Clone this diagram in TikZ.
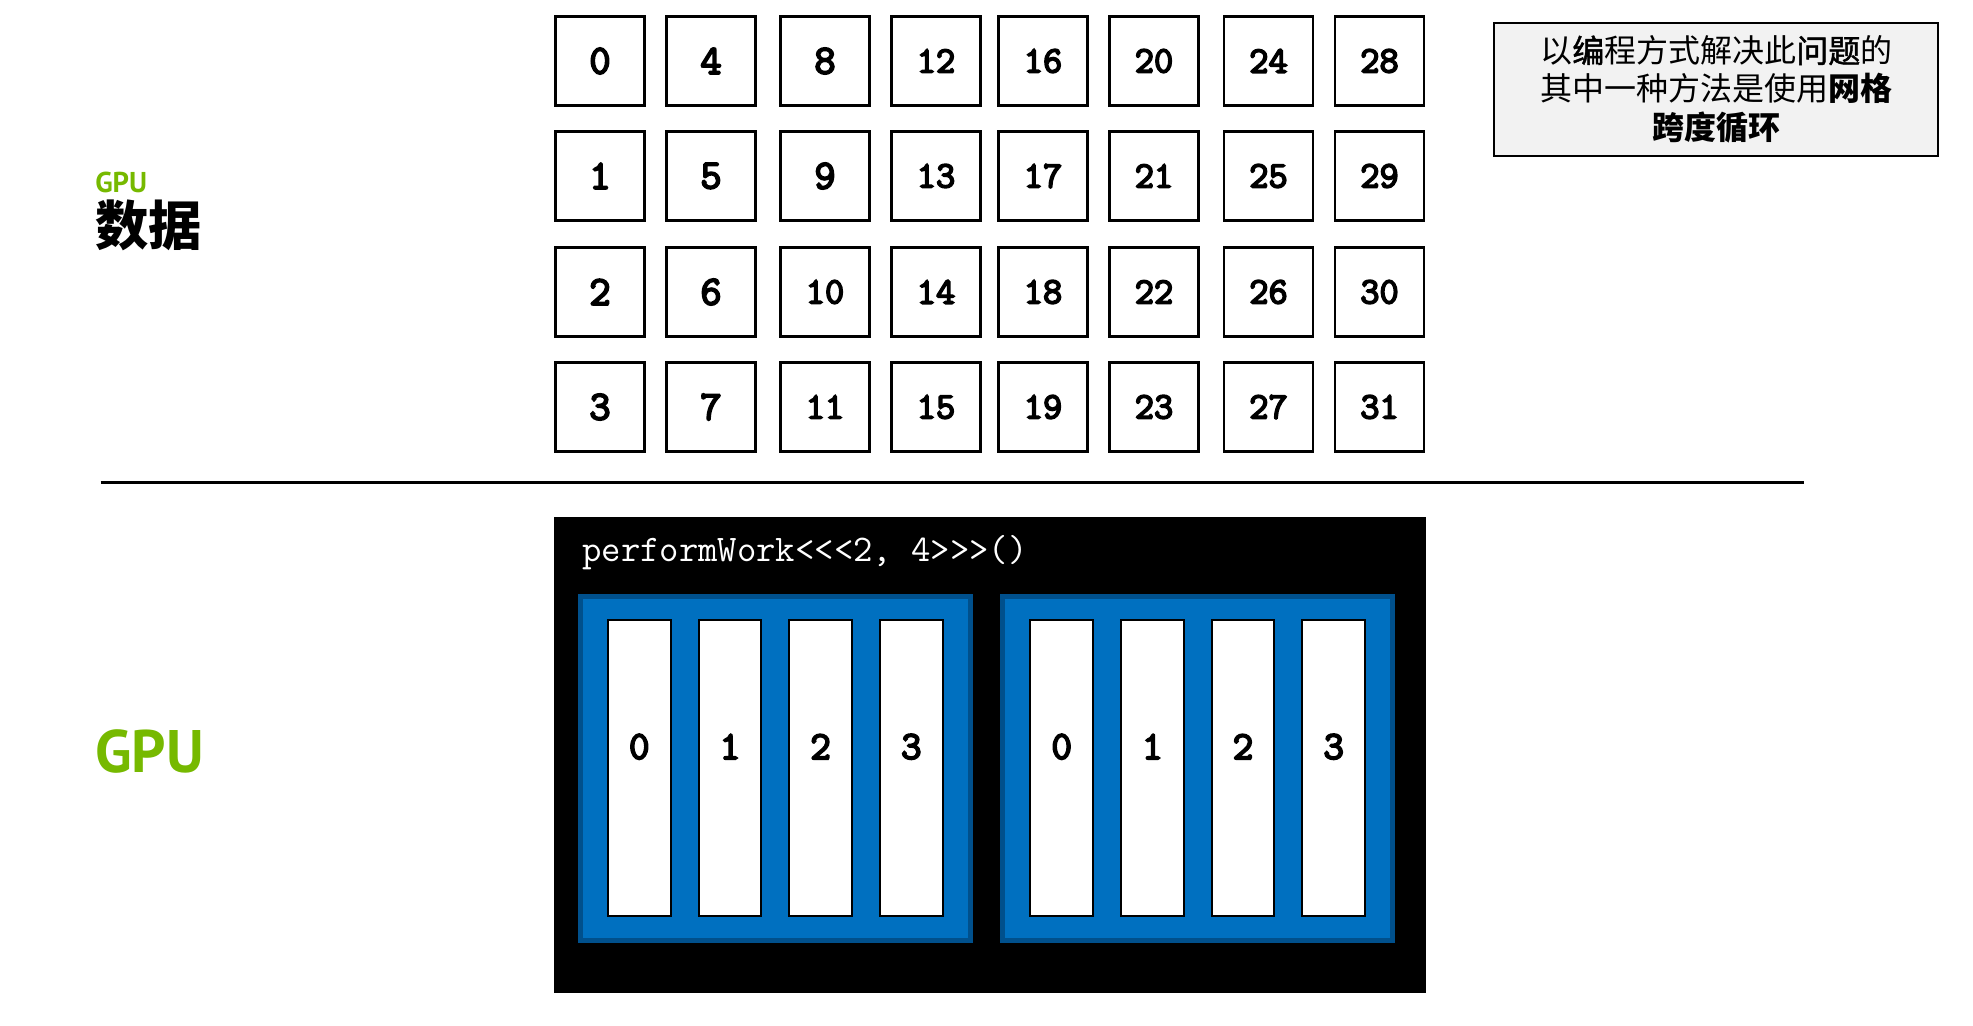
\documentclass[tikz,border=0pt]{standalone}
\usepackage{fontspec}
\usepackage{tikz}
\usetikzlibrary{calc}

\newfontfamily\cjkfont{Noto Sans CJK SC}
\newfontfamily\cjkmid{Noto Sans CJK SC}[BoldFont={Noto Sans CJK SC}, BoldFeatures={FakeBold=1.5}]
\newfontfamily\numfont{Latin Modern Mono}[AutoFakeBold=4.5]
\newfontfamily\gpufont{PT Sans}

\definecolor{gpugreen}{RGB}{118,185,0}
\definecolor{blockblue}{RGB}{0,112,192}
\definecolor{blockedge}{RGB}{0,80,140}
\definecolor{notegray}{RGB}{242,242,242}

\tikzset{
  databox/.style={draw=black, line width=1.9pt, fill=white, inner sep=0pt,
    minimum width=66.75pt, minimum height=66.75pt},
  bigdigit/.style={font=\numfont\bfseries\fontsize{31}{33}\selectfont},
  smalldigit/.style={font=\numfont\bfseries\fontsize{28}{30}\selectfont},
  gridbox/.style={fill=black, draw=none, minimum width=654.2pt, minimum height=356.8pt, inner sep=0pt},
  blockbox/.style={fill=blockblue, draw=blockedge, line width=3.75pt,
    minimum width=292.5pt, minimum height=258pt, inner sep=0pt},
  threadbox/.style={fill=white, draw=black, line width=1.5pt,
    minimum width=46.9pt, minimum height=222pt, inner sep=0pt},
  threadnum/.style={inner sep=0pt, font=\numfont\bfseries\fontsize{30}{32}\selectfont},
  codetext/.style={inner sep=0pt, text=white, font=\ttfamily\fontsize{28.2}{30}\selectfont},
  notebox/.style={draw=black, line width=1.5pt, fill=notegray, align=center, inner sep=0pt,
    minimum width=333pt, minimum height=99.75pt, font=\cjkfont\fontsize{24}{28.7}\selectfont},
}

\begin{document}
\begin{tikzpicture}[x=0.75pt,y=0.75pt,yscale=-1,xscale=1]
        \useasboundingbox (0,0) rectangle (1973,1025);

        % Data cells, four per column
        \foreach \cx [count=\i from 0] in {600,711,825,936,1043,1154,1268.5,1379.5}
          \foreach \cy [count=\j from 0] in {61,176,292,407}
          {
            \pgfmathtruncatemacro{\k}{4*\i+\j}
            \ifnum\k<10 \def\digitsize{bigdigit}\else\def\digitsize{smalldigit}\fi
            \node[databox,\digitsize] (d\k) at (\cx,\cy) {\k};
          }

        % Side labels
        \node[anchor=base west, inner sep=0pt, text=gpugreen, font=\gpufont\bfseries\fontsize{21.5}{24}\selectfont] (gpuSmall) at (95,192.5) {GPU};
        \node[anchor=base west, inner sep=0pt, text height=0.78em, text depth=0.08em, font=\cjkfont\bfseries\fontsize{40}{48}\selectfont] (dataLabel) at (95,245.5) {数据};
        \node[anchor=base west, inner sep=0pt, text=gpugreen, font=\gpufont\bfseries\fontsize{45}{50}\selectfont] (gpuLabel) at (95,772.7) {GPU};

        % Note
        \node[notebox] (note) at (1716.3,89.2) {以{\cjkmid\bfseries 编}程方式解决此{\cjkmid\bfseries 问题}的\\其中一种方法是使用{\bfseries 网格}\\{\bfseries 跨度循环}};

        % Separator
        \coordinate (sepL) at (100.7,482.7);
        \coordinate (sepR) at (1804.3,482.7);
        \draw[line width=2.25pt] (sepL) -- (sepR);

        % Grid of two blocks
        \node[gridbox] (grid) at (989.9,754.9) {};
        \node[codetext, anchor=base west] (launch) at (582,561.7) {performWork<{}<{}<2, 4>{}>{}>()};
        \foreach \bx [count=\b from 0] in {775.3,1197.7}
        {
          \node[blockbox] (blk\b) at (\bx,768.3) {};
          \foreach \dx [count=\t from 0] in {-136,-45.3,45.3,136}
          {
            \node[threadbox] (t\b\t) at ($(blk\b.center)+(\dx,-0.6)$) {};
            \node[threadnum] (n\b\t) at ($(t\b\t.center)+(0,-21)$) {\t};
          }
        }

\end{tikzpicture}
\end{document}
